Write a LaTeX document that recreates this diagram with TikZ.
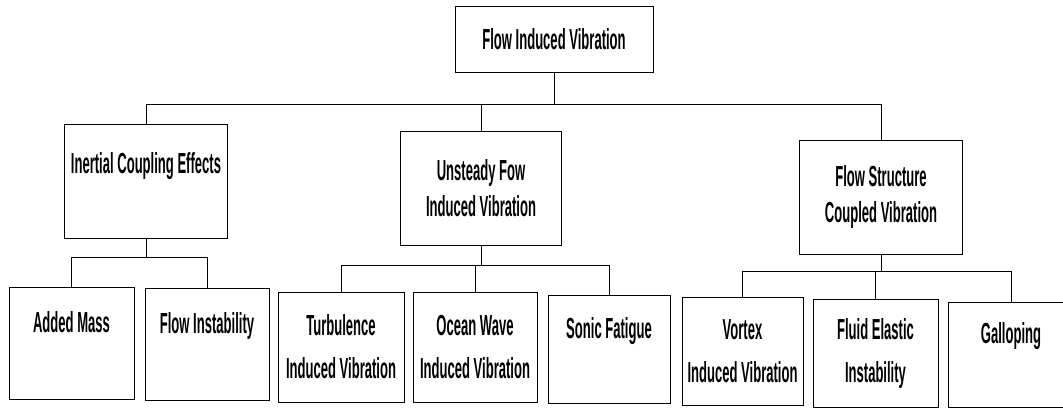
\documentclass[tikz,border=0pt]{standalone}
\usepackage{fontspec}
\setmainfont{Liberation Sans}[FakeStretch=0.45]
\begin{document}
\begin{tikzpicture}[x=1pt, y=-1pt,
    box/.style={draw, line width=0.8pt, inner sep=0pt, align=center,
      minimum width=163pt, minimum height=114pt,
      font=\fontsize{29}{36}\selectfont\bfseries},
    leaf/.style={box, minimum width=124pt, minimum height=108pt,
      font=\fontsize{29}{43}\selectfont\bfseries},
    link/.style={line width=0.8pt}]

    \useasboundingbox (0,0) rectangle (1063,410);
    \clip (0,0) rectangle (1063,410);

    % Top
    \node[box, minimum width=198pt, minimum height=66pt] (flow) at (554,39) {Flow Induced Vibration};

    % Second level
    \node[box] (inertial) at (146,181) {Inertial Coupling Effects\\ \mbox{}};
    \node[box, minimum width=161pt] (unsteady) at (481,188) {Unsteady Fow\\Induced Vibration};
    \node[box] (structure) at (881,197) {Flow Structure\\Coupled Vibration};

    % Third level
    \node[leaf, minimum width=125pt, minimum height=112pt] (added) at (71.5,343) {Added Mass\\ \mbox{}};
    \node[leaf, minimum height=112pt] (flowinst) at (207,344) {Flow Instability\\ \mbox{}};
    \node[leaf, minimum width=126pt, minimum height=110pt] (turb) at (341,347) {Turbulence\\Induced Vibration};
    \node[leaf, minimum height=110pt] (ocean) at (475,347) {Ocean Wave\\Induced Vibration};
    \node[leaf, minimum width=122pt] (sonic) at (609,349) {Sonic Fatigue\\ \mbox{}};
    \node[leaf, minimum width=121pt] (vortex) at (742.5,351) {Vortex\\Induced Vibration};
    \node[leaf, minimum width=125pt] (fluid) at (875.5,353) {Fluid Elastic\\Instability};
    \node[leaf, minimum width=126pt, minimum height=105pt] (galloping) at (1011,354.5) {Galloping\\ \mbox{}};

    % Bars
    \coordinate (topbar) at (554,104);
    \coordinate (inbar) at (0,257);
    \coordinate (unbar) at (0,265);
    \coordinate (stbar) at (0,271);

    % Connectors
    \draw[link] (flow.south) -- (flow.south |- topbar);
    \draw[link] (inertial.north) |- (structure.north |- topbar) -- (structure.north);
    \draw[link] (unsteady.north) -- (unsteady.north |- topbar);

    \draw[link] (inertial.south) -- (inertial.south |- inbar);
    \draw[link] (added.north) |- (flowinst.north |- inbar) -- (flowinst.north);

    \draw[link] (unsteady.south) -- (unsteady.south |- unbar);
    \draw[link] (turb.north) |- (sonic.north |- unbar) -- (sonic.north);
    \draw[link] (ocean.north) -- (ocean.north |- unbar);

    \draw[link] (structure.south) -- (structure.south |- stbar);
    \draw[link] (vortex.north) |- (galloping.north |- stbar) -- (galloping.north);
    \draw[link] (fluid.north) -- (fluid.north |- stbar);
\end{tikzpicture}
\end{document}
